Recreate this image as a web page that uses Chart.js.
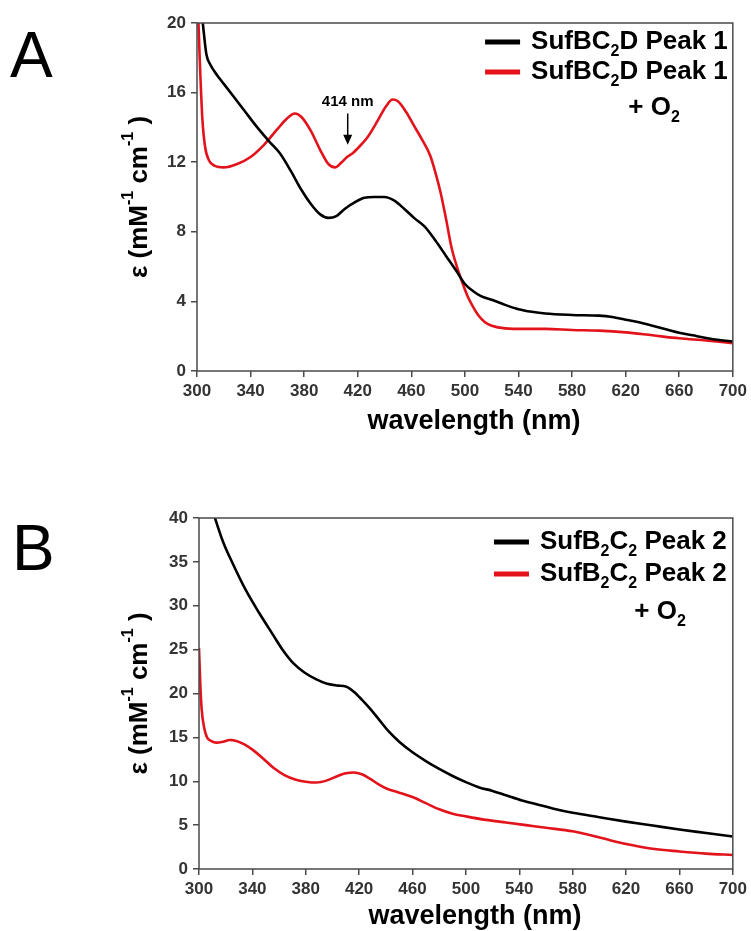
<!DOCTYPE html>
<html>
<head>
<meta charset="utf-8">
<script src="https://cdn.jsdelivr.net/npm/chart.js@4/dist/chart.umd.min.js"></script>
<style>
  html, body { margin: 0; padding: 0; background: #fff; }
  #wrap { position: relative; width: 751px; height: 931px; }
  canvas { position: absolute; left: 0; }
</style>
</head>
<body>
<div id="wrap">
  <canvas id="panelA" width="751" height="465" style="top:0"></canvas>
  <canvas id="panelB" width="751" height="466" style="top:465px"></canvas>
</div>
<script>
// ---- data ----
const xTicks = [300, 340, 380, 420, 460, 500, 540, 580, 620, 660, 700];
const yTicksA = [0, 4, 8, 12, 16, 20];
const yTicksB = [0, 5, 10, 15, 20, 25, 30, 35, 40];

// panel A: SufBC2D Peak 1
const aPeak1Nm  = [303, 305, 307, 310, 315, 320, 327, 335, 345, 355, 362, 370, 378, 385, 392, 398, 404, 410, 418, 425, 432, 440, 447, 455, 462, 470, 478, 486, 494, 500, 506, 512, 520, 530, 540, 550, 560, 580, 600, 610, 620, 630, 640, 650, 660, 670, 680, 690, 700];
const aPeak1Eps = [21, 19.5, 18.2, 17.6, 17.0, 16.5, 15.8, 15.0, 14.0, 13.1, 12.5, 11.5, 10.4, 9.6, 9.0, 8.8, 8.9, 9.3, 9.7, 9.95, 10.0, 10.0, 9.8, 9.3, 8.8, 8.3, 7.5, 6.6, 5.7, 5.0, 4.6, 4.3, 4.1, 3.8, 3.55, 3.4, 3.3, 3.22, 3.18, 3.1, 2.95, 2.8, 2.6, 2.4, 2.2, 2.05, 1.9, 1.78, 1.7];

// panel A: SufBC2D Peak 1 + O2
const aPeak1O2Nm  = [300, 302, 304, 306, 309, 313, 320, 330, 340, 350, 360, 367, 373, 378, 385, 392, 398, 403, 408, 412, 414, 416, 420, 427, 435, 441, 446, 450, 456, 462, 468, 474, 478, 482, 486, 490, 494, 498, 502, 506, 510, 515, 520, 530, 545, 560, 580, 600, 620, 640, 660, 680, 700];
const aPeak1O2Eps = [22.5, 18, 14.5, 12.9, 12.1, 11.8, 11.7, 11.9, 12.3, 13.0, 13.9, 14.5, 14.8, 14.6, 13.8, 12.7, 11.9, 11.7, 12.0, 12.3, 12.4, 12.5, 12.8, 13.4, 14.4, 15.2, 15.6, 15.5, 14.9, 14.1, 13.3, 12.4, 11.4, 10.2, 8.7, 7.1, 6.0, 5.1, 4.3, 3.7, 3.2, 2.8, 2.6, 2.45, 2.42, 2.42, 2.36, 2.32, 2.22, 2.05, 1.88, 1.75, 1.6];

// panel B: SufB2C2 Peak 2
const bPeak2Nm  = [310, 312, 318, 325, 335, 345, 355, 363, 371, 379, 388, 396, 404, 410, 416, 422, 428, 434, 442, 450, 460, 470, 480, 490, 500, 510, 520, 530, 542, 555, 565, 580, 600, 620, 640, 660, 680, 700];
const bPeak2Eps = [41, 40, 37.3, 34.9, 31.8, 29.2, 26.8, 24.9, 23.4, 22.4, 21.6, 21.1, 20.9, 20.8, 20.2, 19.3, 18.3, 17.2, 15.7, 14.5, 13.3, 12.3, 11.4, 10.6, 9.9, 9.3, 8.9, 8.4, 7.8, 7.3, 6.9, 6.4, 5.9, 5.4, 4.95, 4.5, 4.1, 3.7];

// panel B: SufB2C2 Peak 2 + O2
const bPeak2O2Nm  = [300, 301, 302, 304, 306, 309, 313, 318, 323, 328, 334, 340, 348, 356, 364, 372, 380, 388, 396, 404, 410, 416, 422, 428, 434, 440, 450, 460, 470, 480, 490, 500, 515, 530, 545, 560, 580, 595, 610, 625, 640, 660, 680, 700];
const bPeak2O2Eps = [25.2, 21, 18.2, 16.0, 15.0, 14.6, 14.4, 14.5, 14.7, 14.6, 14.2, 13.6, 12.6, 11.5, 10.7, 10.2, 9.95, 9.85, 10.1, 10.6, 10.9, 11.0, 10.8, 10.3, 9.7, 9.2, 8.7, 8.2, 7.5, 6.8, 6.3, 6.0, 5.6, 5.3, 5.0, 4.7, 4.3, 3.8, 3.2, 2.7, 2.3, 2.0, 1.75, 1.6];

// 414 nm marker in panel A
const markNm = 414;
const markTextEps = 15.45;
const markFromEps = 14.8;
const markToEps = 13.0;

const FONT = '"Liberation Sans", Arial, Helvetica, sans-serif';
const FRAME = '#4a4a4a';
const RED = '#e3131b';

const toPoints = (xs, ys) => xs.map((x, i) => ({ x, y: ys[i] }));

// draws text made of [text, mode] pieces; mode 0 normal, 1 subscript, 2 superscript
function richWidth(ctx, parts, size) {
  let w = 0;
  parts.forEach(([t, m]) => {
    ctx.font = `bold ${m ? Math.round(size * 0.6) : size}px ${FONT}`;
    w += ctx.measureText(t).width;
  });
  return w;
}
function drawRich(ctx, parts, x, y, size) {
  ctx.textAlign = 'left';
  ctx.textBaseline = 'middle';
  parts.forEach(([t, m]) => {
    ctx.font = `bold ${m ? Math.round(size * 0.6) : size}px ${FONT}`;
    const dy = m === 1 ? size * 0.36 : m === 2 ? -size * 0.42 : 0;
    ctx.fillText(t, x, y + dy);
    x += ctx.measureText(t).width;
  });
}

const decor = {
  id: 'decor',
  afterDraw(chart, args, o) {
    const { ctx, chartArea: ca, scales } = chart;
    ctx.save();

    // frame round the plot
    ctx.strokeStyle = FRAME;
    ctx.lineWidth = 1.5;
    ctx.strokeRect(ca.left, ca.top, ca.right - ca.left, ca.bottom - ca.top);

    ctx.fillStyle = '#000';

    // panel letter
    ctx.font = `64px ${FONT}`;
    ctx.textAlign = 'left';
    ctx.textBaseline = 'alphabetic';
    ctx.fillText(o.letter, o.letterX, o.letterY);

    // x title
    ctx.font = `bold 27px ${FONT}`;
    ctx.textAlign = 'center';
    ctx.textBaseline = 'middle';
    ctx.fillText('wavelength (nm)', (ca.left + ca.right) / 2 + 9, ca.bottom + o.xTitleDy);

    // y title, rotated
    const yParts = [['ε (mM', 0], ['-1', 2], [' cm', 0], ['-1', 2], [' )', 0]];
    ctx.save();
    ctx.translate(o.yTitleX, (ca.top + ca.bottom) / 2);
    ctx.rotate(-Math.PI / 2);
    const yw = richWidth(ctx, yParts, 26);
    drawRich(ctx, yParts, -yw / 2, 0, 26);
    ctx.restore();

    // legend
    o.legend.forEach(row => {
      const w = richWidth(ctx, row.parts, 26);
      const x0 = ca.right - row.right - w;
      const y = ca.top + row.dy;
      if (row.color) {
        ctx.strokeStyle = row.color;
        ctx.lineWidth = 5;
        ctx.beginPath();
        ctx.moveTo(x0 - 46, y);
        ctx.lineTo(x0 - 11, y);
        ctx.stroke();
      }
      ctx.fillStyle = '#000';
      drawRich(ctx, row.parts, x0, y, 26);
    });

    // 414 nm arrow
    if (o.mark) {
      const x = scales.x.getPixelForValue(markNm);
      const yT = scales.y.getPixelForValue(markTextEps);
      const y1 = scales.y.getPixelForValue(markFromEps);
      const y2 = scales.y.getPixelForValue(markToEps);
      ctx.font = `bold 15px ${FONT}`;
      ctx.textAlign = 'center';
      ctx.textBaseline = 'middle';
      ctx.fillStyle = '#000';
      ctx.fillText('414 nm', x - 2, yT);
      ctx.strokeStyle = '#000';
      ctx.lineWidth = 1.5;
      ctx.beginPath();
      ctx.moveTo(x - 2, y1);
      ctx.lineTo(x - 2, y2 - 8);
      ctx.stroke();
      ctx.beginPath();
      ctx.moveTo(x - 6.5, y2 - 10);
      ctx.lineTo(x + 2.5, y2 - 10);
      ctx.lineTo(x - 2, y2);
      ctx.closePath();
      ctx.fill();
    }
    ctx.restore();
  }
};

function makePanel(canvas, cfg) {
  const tickFont = { family: FONT, size: 17, weight: 'bold' };
  return new Chart(canvas.getContext('2d'), {
    type: 'line',
    data: {
      datasets: [
        { data: cfg.black, borderColor: '#000' },
        { data: cfg.red, borderColor: RED },
      ].map(ds => ({
        ...ds,
        borderWidth: 2.6,
        pointRadius: 0,
        cubicInterpolationMode: 'monotone',
        fill: false,
      })),
    },
    options: {
      responsive: false,
      animation: false,
      devicePixelRatio: 1,
      layout: { padding: { top: cfg.top, right: cfg.right, left: 0, bottom: 0 } },
      plugins: {
        legend: { display: false },
        tooltip: { enabled: false },
        decor: cfg.decor,
      },
      scales: {
        x: {
          type: 'linear',
          min: 300,
          max: 700,
          afterBuildTicks: (s) => { s.ticks = xTicks.map(v => ({ value: v })); },
          afterFit: (s) => { s.height = cfg.xHeight; },
          grid: { drawOnChartArea: false, drawTicks: true, tickLength: 6, color: FRAME, lineWidth: 1.5 },
          border: { display: false },
          ticks: { font: tickFont, color: '#333', padding: 4, maxRotation: 0 },
        },
        y: {
          min: 0,
          max: cfg.yMax,
          afterBuildTicks: (s) => { s.ticks = cfg.yTicks.map(v => ({ value: v })); },
          afterFit: (s) => { s.width = cfg.left; },
          grid: { drawOnChartArea: false, drawTicks: true, tickLength: 6, color: FRAME, lineWidth: 1.5 },
          border: { display: false },
          ticks: { font: tickFont, color: '#333', padding: 5 },
        },
      },
    },
    plugins: [decor],
  });
}

makePanel(document.getElementById('panelA'), {
  black: toPoints(aPeak1Nm, aPeak1Eps),
  red: toPoints(aPeak1O2Nm, aPeak1O2Eps),
  yMax: 20,
  yTicks: yTicksA,
  top: 23,
  right: 18,
  left: 197,
  xHeight: 94,
  decor: {
    letter: 'A', letterX: 10, letterY: 77,
    xTitleDy: 51, yTitleX: 140,
    mark: true,
    legend: [
      { parts: [['SufBC', 0], ['2', 1], ['D Peak 1', 0]], color: '#000', dy: 19, right: 5 },
      { parts: [['SufBC', 0], ['2', 1], ['D Peak 1', 0]], color: RED, dy: 49, right: 5 },
      { parts: [['+ O', 0], ['2', 1]], dy: 85, right: 53 },
    ],
  },
});

makePanel(document.getElementById('panelB'), {
  black: toPoints(bPeak2Nm, bPeak2Eps),
  red: toPoints(bPeak2O2Nm, bPeak2O2Eps),
  yMax: 40,
  yTicks: yTicksB,
  top: 53,
  right: 17,
  left: 199,
  xHeight: 62,
  decor: {
    letter: 'B', letterX: 12, letterY: 105,
    xTitleDy: 48, yTitleX: 140,
    mark: false,
    legend: [
      { parts: [['SufB', 0], ['2', 1], ['C', 0], ['2', 1], [' Peak 2', 0]], color: '#000', dy: 24, right: 6 },
      { parts: [['SufB', 0], ['2', 1], ['C', 0], ['2', 1], [' Peak 2', 0]], color: RED, dy: 56, right: 6 },
      { parts: [['+ O', 0], ['2', 1]], dy: 94, right: 47 },
    ],
  },
});
</script>
</body>
</html>
